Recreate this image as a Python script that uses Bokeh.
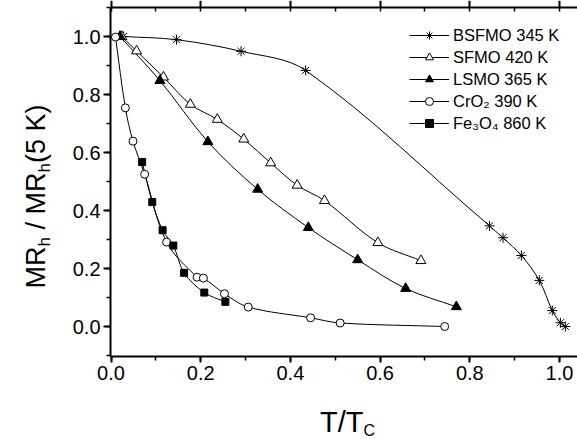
import numpy as np
from bokeh.plotting import figure
from bokeh.models import (Range1d, LinearAxis, SingleIntervalTicker, Legend, LegendItem,
                          Label, CustomJSTickFormatter, PrintfTickFormatter)
from bokeh.embed import file_html
from bokeh.resources import INLINE

# ---------------- data ----------------
bsfmo_x = [0.028, 0.146, 0.290, 0.434, 0.844, 0.874, 0.915, 0.955, 0.984, 1.002, 1.013]
bsfmo_y = [1.000, 0.989, 0.949, 0.883, 0.347, 0.306, 0.245, 0.159, 0.055, 0.013, 0.000]

sfmo_x = [0.024, 0.057, 0.117, 0.177, 0.237, 0.296, 0.356, 0.415, 0.476, 0.595, 0.691]
sfmo_y = [1.000, 0.950, 0.860, 0.766, 0.714, 0.646, 0.564, 0.487, 0.434, 0.289, 0.227]

lsmo_x = [0.020, 0.109, 0.216, 0.327, 0.440, 0.550, 0.657, 0.770]
lsmo_y = [1.000, 0.848, 0.637, 0.473, 0.341, 0.230, 0.131, 0.068]

cro2_x = [0.010, 0.032, 0.049, 0.075, 0.124, 0.192, 0.206, 0.253, 0.306, 0.445, 0.511, 0.744]
cro2_y = [0.998, 0.754, 0.639, 0.525, 0.291, 0.170, 0.167, 0.113, 0.067, 0.030, 0.012, 0.000]

fe3o4_x = [0.0695, 0.092, 0.115, 0.139, 0.163, 0.208, 0.255]
fe3o4_y = [0.567, 0.429, 0.332, 0.279, 0.185, 0.117, 0.085]

series_labels = ["BSFMO 345 K", "SFMO 420 K", "LSMO 365 K", "CrO\u2082 390 K", "Fe\u2083O\u2084 860 K"]

FONT = "Liberation Sans"
W_PX, H_PX = 577, 439

# axes box (data limits) and the canvas mapping
X_LO, X_HI = -0.001, 1.040
Y_LO, Y_HI = -0.103, 1.100
X0_PX, XSCALE = 110.5, 448.5     # px of x=0, px per unit
Y0_PX, YSCALE = 326.0, 290.0     # px of y=0, px per unit

p = figure(width=W_PX, height=H_PX, output_backend="svg", toolbar_location=None,
           x_range=Range1d(-X0_PX / XSCALE, (W_PX - X0_PX) / XSCALE),
           y_range=Range1d(-(H_PX - Y0_PX) / YSCALE, Y0_PX / YSCALE),
           x_axis_location=None, y_axis_location=None,
           min_border=0, min_border_left=0, min_border_right=0,
           min_border_top=0, min_border_bottom=0,
           background_fill_color="white", border_fill_color="white")
p.grid.visible = False
p.outline_line_color = None


def style_axis(ax):
    ax.axis_line_width = 2
    ax.axis_line_color = "black"
    ax.major_tick_line_width = 2
    ax.minor_tick_line_width = 1.5
    ax.major_tick_line_color = "black"
    ax.minor_tick_line_color = "black"
    ax.major_label_text_font = FONT
    ax.major_label_text_font_size = "20px"
    ax.major_label_text_color = "black"


xaxis = LinearAxis(ticker=SingleIntervalTicker(interval=0.2, num_minor_ticks=2),
                   formatter=PrintfTickFormatter(format="%.1f"),
                   fixed_location=Y_LO, bounds=(X_LO, X_HI),
                   major_tick_in=0, major_tick_out=6, minor_tick_in=0, minor_tick_out=4,
                   major_label_standoff=4)
style_axis(xaxis)
p.add_layout(xaxis, "below")

yaxis = LinearAxis(ticker=SingleIntervalTicker(interval=0.2, num_minor_ticks=2),
                   formatter=PrintfTickFormatter(format="%.1f"),
                   fixed_location=X_LO, bounds=(Y_LO, Y_HI),
                   major_tick_in=0, major_tick_out=7, minor_tick_in=0, minor_tick_out=4,
                   major_label_standoff=3)
style_axis(yaxis)
p.add_layout(yaxis, "left")

top = LinearAxis(ticker=SingleIntervalTicker(interval=0.2, num_minor_ticks=2),
                 formatter=CustomJSTickFormatter(code="return ''"),
                 fixed_location=Y_HI, bounds=(X_LO, X_HI),
                 major_tick_in=0, major_tick_out=7, minor_tick_in=4, minor_tick_out=0,
                 major_label_standoff=0)
style_axis(top)
top.major_label_text_font_size = "1px"
p.add_layout(top, "above")


def smooth_bezier(xs, ys):
    """Cubic Bezier pieces through the points (Bessel-like tangents, chord-scaled)."""
    x = np.asarray(xs, float)
    y = np.asarray(ys, float)
    n = len(x)
    px, py = x * XSCALE, y * YSCALE
    tx = np.empty(n)
    ty = np.empty(n)
    for i in range(n):
        a = max(i - 1, 0)
        b = min(i + 1, n - 1)
        dx, dy = px[b] - px[a], py[b] - py[a]
        L = np.hypot(dx, dy)
        tx[i], ty[i] = dx / L, dy / L
    seg = np.hypot(np.diff(px), np.diff(py)) / 3.0
    cx0 = (px[:-1] + tx[:-1] * seg) / XSCALE
    cy0 = (py[:-1] + ty[:-1] * seg) / YSCALE
    cx1 = (px[1:] - tx[1:] * seg) / XSCALE
    cy1 = (py[1:] - ty[1:] * seg) / YSCALE
    return dict(x0=x[:-1], y0=y[:-1], x1=x[1:], y1=y[1:], cx0=cx0, cy0=cy0, cx1=cx1, cy1=cy1)


series = [
    (bsfmo_x, bsfmo_y, "asterisk", 10, "black"),
    (sfmo_x, sfmo_y, "triangle", 10, "white"),
    (lsmo_x, lsmo_y, "triangle", 10, "black"),
    (cro2_x, cro2_y, "circle", 8, "white"),
    (fe3o4_x, fe3o4_y, "square", 7, "black"),
]

line_rs = []
for xs, ys, m, s, fc in series:
    line_rs.append(p.bezier(line_color="black", line_width=1, **smooth_bezier(xs, ys)))

items = []
for (xs, ys, m, s, fc), lr, lab_txt in zip(series, line_rs, series_labels):
    sr = p.scatter(xs, ys, marker=m, size=s, line_color="black", line_width=1, fill_color=fc)
    items.append(LegendItem(label=lab_txt, renderers=[lr, sr]))

legend = Legend(items=items, location=(409, H_PX - 133), padding=0, margin=0,
                border_line_color=None, background_fill_alpha=0,
                glyph_width=40, glyph_height=20, label_height=20, spacing=2,
                label_standoff=4, label_text_font=FONT, label_text_font_size="16.5px",
                label_text_color="black")
p.add_layout(legend, "center")

# ---------------- axis titles with subscripts (screen px from bottom-left) ----------------
W = {"M": .833, "R": .722, "h": .556, " ": .278, "/": .278, "(": .333, ")": .333,
     "5": .556, "K": .667, "T": .611, "C": .722}


def tw(s, size):
    return sum(W[c] for c in s) * size


SUB = 17


def lab(x, y, text, size, angle=0.0):
    p.add_layout(Label(x=x, y=y, x_units="screen", y_units="screen", text=text, angle=angle,
                       text_font=FONT, text_font_size=f"{size}px", text_align="left",
                       text_baseline="alphabetic", text_color="black"))


# x title: T/T_C
XMAIN = 29
xs0 = 319.5
lab(xs0, H_PX - 421.0, "T/T", XMAIN)
lab(xs0 + tw("T/T", XMAIN), H_PX - 430.0, "C", 16)

# y title: MR_h / MR_h(5 K), rotated; (text, is_subscript, leading gap in em of main font)
YMAIN = 27
pieces = [("MR", False, 0.0), ("h", True, 0.0), ("/ MR", False, 0.278), ("h", True, 0.0),
          ("(5 K)", False, 0.0)]
ypos = H_PX - 288.0
for txt, sub, gap in pieces:
    size = SUB if sub else YMAIN
    ypos += gap * YMAIN
    lab(44 if sub else 35, ypos, txt, size, angle=np.pi / 2)
    ypos += tw(txt, size)

open("out.html", "w").write(file_html(p, INLINE))
